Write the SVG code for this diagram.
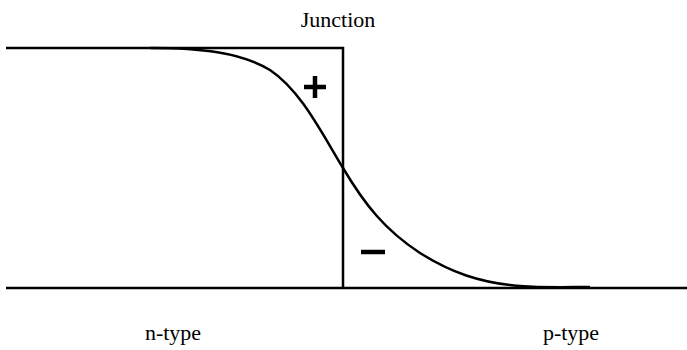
<svg xmlns="http://www.w3.org/2000/svg" width="687" height="350" viewBox="0 0 687 350">
<style>
.ln{stroke:#000;stroke-width:2.5;fill:none}
.sg{stroke:#000;stroke-width:4.5;fill:none}
</style>
<rect width="687" height="350" fill="#fff"/>
<g id="axes">
<path class="ln" d="M6 48 H343 V288"/>
<path class="ln" d="M6 288 H687"/>
</g>
<g id="curve">
<path class="ln" d="M150 48 C200 48 240 52 270 70 C300 90 320 130 343 168 C365 205 385 230 420 253 C450 272 480 283 520 286 C545 288 570 287 590 287"/>
</g>
<g id="signs">
<path class="sg" d="M304 87 H326 M315 76 V98"/>
<path class="sg" d="M361 252 H385"/>
</g>
<g id="junction-label"><text x="338" y="27" font-family="Liberation Serif" font-size="22" text-anchor="middle" style="font-family:'Liberation Serif',serif !important">Junction</text></g>
<g id="n-label"><text x="173" y="340" font-family="Liberation Serif" font-size="22" text-anchor="middle" style="font-family:'Liberation Serif',serif !important">n-type</text></g>
<g id="p-label"><text x="571" y="340" font-family="Liberation Serif" font-size="22" text-anchor="middle" style="font-family:'Liberation Serif',serif !important">p-type</text></g>
</svg>
